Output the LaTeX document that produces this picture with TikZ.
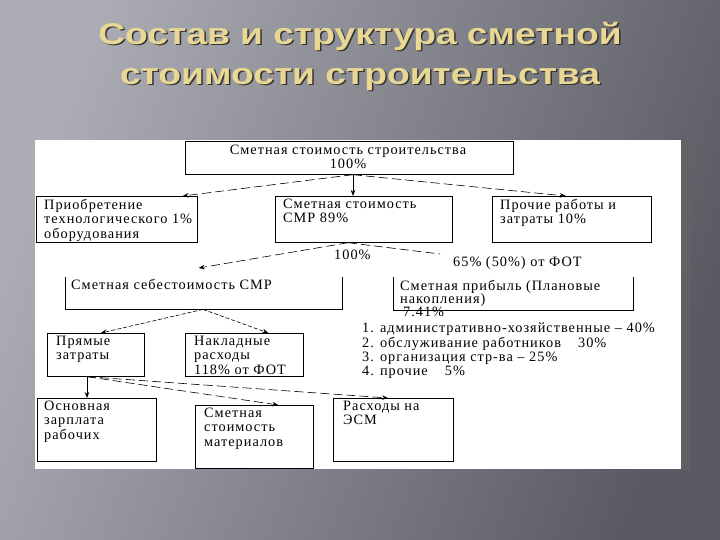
\documentclass[tikz,border=0pt]{standalone}
\usepackage{fontspec}
\setmainfont{Liberation Serif}
\newfontfamily\titlefont{Liberation Sans}
\newfontfamily\boxfont[LetterSpace=7]{Liberation Serif}
\usetikzlibrary{calc,arrows.meta}
\definecolor{bgl}{RGB}{172,172,180}
\definecolor{bgd}{RGB}{90,90,98}
\definecolor{titlecol}{RGB}{232,216,148}
\begin{document}
\begin{tikzpicture}[x=1pt,y=-1pt,
  box/.style={draw=black, line width=0.7pt, fill=white, inner sep=0pt, anchor=north west},
  openbox/.style={inner sep=0pt, anchor=north west},
  txt/.style={anchor=north west, inner sep=0pt, align=left, font=\boxfont\fontsize{14.3}{14.3}\selectfont},
  dsh/.style={draw=black, line width=0.6pt, dash pattern=on 9pt off 4pt},
  dshs/.style={draw=black, line width=0.6pt, dash pattern=on 4pt off 2pt},
  arr/.style={-{Stealth[length=6pt,width=4.5pt]}},
  ttl/.style={font=\titlefont\bfseries\fontsize{30}{40}\selectfont, align=center, inner sep=0pt}
]
% background
\useasboundingbox (0,0) rectangle (720,540);
\shade[shading=axis, left color=bgl, right color=bgd, shading angle=70] (0,0) rectangle (720,540);
\fill[black!60, opacity=0.5] (681,140) rectangle (690,470);
% title
\node[ttl, text=black!80] (titshadow) at (361.5,57.5) {\scalebox{1.24}[1]{Состав и структура сметной}\\\scalebox{1.24}[1]{стоимости строительства}};
\node[ttl, text=titlecol] (title) at (360,56) {\scalebox{1.24}[1]{Состав и структура сметной}\\\scalebox{1.24}[1]{стоимости строительства}};
% panel
\fill[white] (35,140) rectangle (681,469);
% boxes
\node[box, minimum width=328pt, minimum height=33pt] (T) at (185,141) {};
\node[txt, anchor=north, align=center] (Tt) at (348,145) {Сметная стоимость строительства\\100\%};
\node[box, minimum width=161pt, minimum height=46pt] (pri) at (36,196) {};
\node[txt] (prit) at (44,199) {Приобретение\\технологического 1\%\\оборудования};
\node[box, minimum width=177pt, minimum height=46pt] (smr) at (275,196) {};
\node[txt] (smrt) at (283,199) {Сметная стоимость\\СМР 89\%};
\node[box, minimum width=159pt, minimum height=46pt] (pro) at (492,196) {};
\node[txt] (prot) at (500,199) {Прочие работы и\\затраты 10\%};
\node[txt] (l100) at (334,250) {100\%};
\node[txt] (l65) at (453,256) {65\% (50\%) от ФОТ};
\node[openbox, minimum width=277pt, minimum height=32pt] (seb) at (65,277) {};
\draw[line width=0.7pt] (seb.north west) -- (seb.south west) -- (seb.south east) -- (seb.north east);
\node[txt] (sebt) at (71,279) {Сметная себестоимость СМР};
\node[openbox, minimum width=240pt, minimum height=33pt] (prof) at (393,277) {};
\draw[line width=0.7pt] (prof.north west) -- (prof.south west) -- (prof.south east) -- (prof.north east);
\node[txt, font=\boxfont\fontsize{14.3}{13}\selectfont] (proft) at (400,280) {Сметная прибыль (Плановые\\накопления)\\\hspace*{3pt}7.41\%};
\node[txt] (list) at (362,323) {1. административно-хозяйственные – 40\%\\2. обслуживание работников\hspace{1.2em}30\%\\3. организация стр-ва – 25\%\\4. прочие\hspace{1.2em}5\%};
\node[box, minimum width=97pt, minimum height=43pt] (pry) at (47,333) {};
\node[txt] (pryt) at (56,336) {Прямые\\затраты};
\node[box, minimum width=118pt, minimum height=43pt] (nak) at (185,333) {};
\node[txt] (nakt) at (194,336) {Накладные\\расходы\\118\% от ФОТ};
\node[box, minimum width=119pt, minimum height=63pt] (osn) at (37,398) {};
\node[txt] (osnt) at (44,401) {Основная\\зарплата\\рабочих};
\node[box, minimum width=118pt, minimum height=63pt] (mat) at (195,405) {};
\node[txt] (matt) at (204,408) {Сметная\\стоимость\\материалов};
\node[box, minimum width=120pt, minimum height=63pt] (esm) at (333,398) {};
\node[txt] (esmt) at (343,401) {Расходы на\\ЭСМ};
% connectors
\coordinate (t0) at ($(T.south west)+(168,0)$);
\draw[arr, line width=0.6pt] (t0) -- (t0 |- smr.north);
\draw[dsh, arr] (t0) -- ($(pri.north east)+(-15,0)$);
\draw[dsh, arr] (t0) -- ($(pro.north)+(-6,0)$);
\coordinate (s0) at ($(smr.south west)+(73,0)$);
\draw[dsh, arr] (s0) -- ($(seb.north)+(-5,-9)$);
\coordinate (s1) at ($(prof.north west)+(47,-23)$);
\draw[dsh] (s0) -- (s1);
\coordinate (b0) at ($(seb.south west)+(138,0)$);
\draw[dshs, arr] (b0) -- ($(pry.north)+(5,0)$);
\draw[dshs, arr] (b0) -- ($(nak.north)+(24,0)$);
\coordinate (p0) at ($(pry.south west)+(40,0)$);
\draw[arr, line width=0.6pt] (p0) -- (p0 |- osn.north);
\draw[dsh, arr] (p0) -- ($(mat.north)+(24,0)$);
\draw[dsh, arr] (p0) -- ($(esm.north west)+(55,0)$);
\end{tikzpicture}
\end{document}
